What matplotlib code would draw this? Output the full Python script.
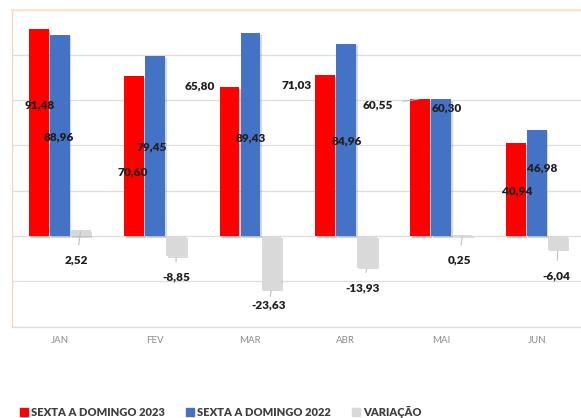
import matplotlib
matplotlib.use("Agg")
import matplotlib.pyplot as plt
import matplotlib.patheffects as pe
from matplotlib.patches import Patch
import numpy as np

plt.rcParams["font.family"] = ["Lato", "DejaVu Sans"]

MONTHS = ["JAN", "FEV", "MAR", "ABR", "MAI", "JUN"]
SALES_2023 = [91.48, 70.60, 65.80, 71.03, 60.55, 40.94]
SALES_2022 = [88.96, 79.45, 89.43, 84.96, 60.30, 46.98]
VARIATION = [2.52, -8.85, -23.63, -13.93, 0.25, -6.04]
SERIES_NAMES = ["SEXTA A DOMINGO 2023", "SEXTA A DOMINGO 2022", "VARIAÇÃO"]

COLORS = ["#FF0000", "#4472C4", "#D9D9D9"]
BAR_W = 0.22

# label offsets (pixels) from each bar tip, as the labels were dragged in the original
LABEL_OFFSETS = [
    [(1, -76), (-1, -102), (-4, -30)],
    [(-1, -96), (-3, -91), (0, -21)],
    [(-30, 1), (0, -104), (-3, -15)],
    [(-28, -10), (1, -97), (-4, -20)],
    [(-42, -6), (5, -9), (-3, -25)],
    [(1, -48), (5, -38), (-1, -26)],
]
LEADER = [(0, 2), (1, 2), (2, 2), (3, 2), (4, 0), (4, 2), (5, 2)]


def fmt(v):
    return f"{v:.2f}".replace(".", ",")


fig = plt.figure(figsize=(5.81, 4.18), dpi=100)
ax = fig.add_axes([12 / 581, 1 - 326.6 / 418, 572.4 / 581, 317.1 / 418])

x = np.arange(len(MONTHS))
series = [SALES_2023, SALES_2022, VARIATION]
shadow = [pe.SimplePatchShadow(offset=(1.2, -1.2), alpha=0.18), pe.Normal()]
for i, (vals, col) in enumerate(zip(series, COLORS)):
    bars = ax.bar(x + (i - 1) * BAR_W, vals, BAR_W * 0.95, color=col, zorder=3)
    for b in bars:
        b.set_path_effects(shadow)

for j in range(len(MONTHS)):
    for i, vals in enumerate(series):
        xb = x[j] + (i - 1) * BAR_W
        dx, dy = LABEL_OFFSETS[j][i]
        arrow = None
        if (j, i) in LEADER:
            arrow = dict(arrowstyle="-", color="#BFBFBF", lw=0.8, shrinkA=5, shrinkB=1)
        ax.annotate(fmt(vals[j]), (xb, vals[j]), xytext=(dx, dy),
                    textcoords="offset pixels", ha="center", va="center",
                    fontsize=8.5, fontweight="heavy", color="#1F1F1F", zorder=5,
                    arrowprops=arrow)

ax.set_xlim(-0.5, 5.5)
ax.set_ylim(-40, 100)
ax.set_yticks(np.arange(-40, 101, 20))
ax.yaxis.grid(True, color="#DDDDDD", lw=0.9, zorder=0)
ax.axhline(-40, color="#DDDDDD", lw=0.9, clip_on=False, zorder=0)
ax.tick_params(axis="y", left=False, labelleft=False)
ax.set_xticks(x)
ax.set_xticklabels(MONTHS, fontsize=7, color="#8C8C8C")
ax.tick_params(axis="x", length=0, pad=7)
for side in ["right", "bottom"]:
    ax.spines[side].set_visible(False)
ax.spines["left"].set_color("#F8D5C0")
ax.spines["top"].set_color("#FBE3D4")
ax.spines["left"].set_linewidth(1)
ax.spines["top"].set_linewidth(1.5)

handles = [Patch(color=c) for c in COLORS]
fig.legend(handles, SERIES_NAMES, loc="center left",
           bbox_to_anchor=(20 / 581, 1 - 412 / 418), ncol=3, frameon=False,
           handlelength=0.7, handleheight=0.7,
           handletextpad=0.3, columnspacing=1.9, borderpad=0, borderaxespad=0,
           prop={"weight": "heavy", "size": 8})
for t in fig.legends[0].get_texts():
    t.set_color("#404040")

fig.savefig("out.png", dpi=100, facecolor="white")
